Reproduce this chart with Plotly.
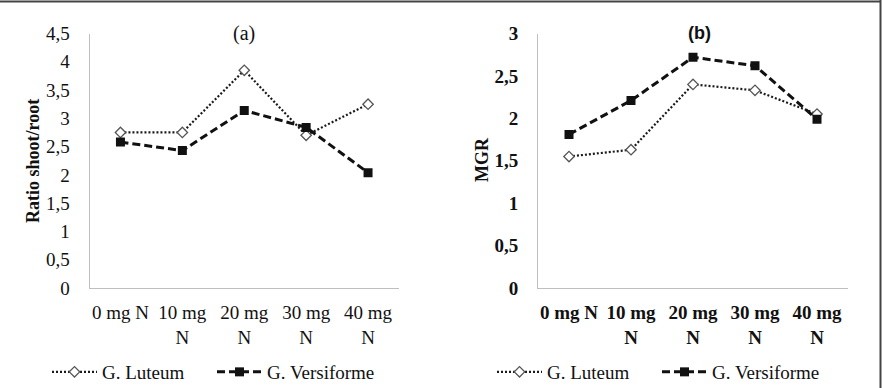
import plotly.graph_objects as go

categories = ["0 mg N", "10 mg<br>N", "20 mg<br>N", "30 mg<br>N", "40 mg<br>N"]

ratio_luteum = [2.75, 2.75, 3.85, 2.70, 3.25]
ratio_versiforme = [2.58, 2.43, 3.14, 2.84, 2.04]

mgr_luteum = [1.55, 1.63, 2.40, 2.33, 2.05]
mgr_versiforme = [1.81, 2.21, 2.72, 2.62, 1.99]

ratio_ticks = [0, 0.5, 1, 1.5, 2, 2.5, 3, 3.5, 4, 4.5]
ratio_ticktext = ["0", "0,5", "1", "1,5", "2", "2,5", "3", "3,5", "4", "4,5"]
mgr_ticks = [0, 0.5, 1, 1.5, 2, 2.5, 3]
mgr_ticktext = ["0", "0,5", "1", "1,5", "2", "2,5", "3"]

series_names = ["G. Luteum", "G. Versiforme"]

W, H = 885, 388
SERIF = "Liberation Serif"

lut_style = dict(mode="lines+markers",
                 line=dict(color="#1a1a1a", width=2.2, dash="2px,2px"),
                 marker=dict(symbol="diamond", size=8, color="white",
                             line=dict(color="#555555", width=1.3)))
ver_style = dict(mode="lines+markers",
                 line=dict(color="#111111", width=3, dash="8px,4px"),
                 marker=dict(symbol="square", size=9, color="#111111",
                             line=dict(color="#111111", width=0)))

fig = go.Figure()
fig.add_trace(go.Scatter(x=categories, y=ratio_luteum, name=series_names[0],
                         xaxis="x", yaxis="y", legend="legend", **lut_style))
fig.add_trace(go.Scatter(x=categories, y=ratio_versiforme, name=series_names[1],
                         xaxis="x", yaxis="y", legend="legend", **ver_style))
fig.add_trace(go.Scatter(x=categories, y=mgr_luteum, name=series_names[0],
                         xaxis="x2", yaxis="y2", legend="legend2", **lut_style))
fig.add_trace(go.Scatter(x=categories, y=mgr_versiforme, name=series_names[1],
                         xaxis="x2", yaxis="y2", legend="legend2", **ver_style))

ydom = [1 - 288 / H, 1 - 33.5 / H]

axis_common = dict(showgrid=False, zeroline=False, showline=True,
                   linecolor="#bfbfbf", linewidth=1, ticks="", automargin=False)

fig.update_layout(
    width=W, height=H,
    margin=dict(l=0, r=0, t=0, b=0, autoexpand=False),
    paper_bgcolor="white", plot_bgcolor="white",
    font=dict(family=SERIF, size=19, color="#111111"),
    xaxis=dict(domain=[89.5 / W, 399 / W], anchor="y", type="category",
               range=[-0.5, 4.5], tickfont=dict(family=SERIF, size=19),
               ticklabelstandoff=7, **axis_common),
    yaxis=dict(domain=ydom, anchor="x", range=[0, 4.5],
               tickvals=ratio_ticks, ticktext=ratio_ticktext,
               tickfont=dict(family=SERIF, size=19), ticklabelstandoff=15,
               **axis_common),
    xaxis2=dict(domain=[538 / W, 848 / W], anchor="y2", type="category",
                range=[-0.5, 4.5], tickfont=dict(family=SERIF, size=19, weight="bold"),
                ticklabelstandoff=7, **axis_common),
    yaxis2=dict(domain=ydom, anchor="x2", range=[0, 3],
                tickvals=mgr_ticks, ticktext=mgr_ticktext,
                tickfont=dict(family=SERIF, size=19, weight="bold"),
                ticklabelstandoff=15, **axis_common),
    legend=dict(orientation="h", x=47 / W, xanchor="left", y=1 - 372 / H,
                yanchor="middle", itemwidth=45, entrywidth=105,
                font=dict(family=SERIF, size=19), bgcolor="rgba(0,0,0,0)"),
    legend2=dict(orientation="h", x=492 / W, xanchor="left", y=1 - 372 / H,
                 yanchor="middle", itemwidth=45, entrywidth=105,
                 font=dict(family=SERIF, size=19), bgcolor="rgba(0,0,0,0)"),
    showlegend=True,
)

ann_common = dict(xref="paper", yref="paper", showarrow=False,
                  xanchor="center", yanchor="middle")
fig.add_annotation(text="(a)", x=244 / W, y=1 - 33 / H,
                   font=dict(family=SERIF, size=20), **ann_common)
fig.add_annotation(text="<b>(b)</b>", x=699 / W, y=1 - 33 / H,
                   font=dict(family="Liberation Sans", size=18), **ann_common)
fig.add_annotation(text="<b>Ratio shoot/root</b>", x=33 / W, y=1 - 161 / H,
                   textangle=-90, font=dict(family=SERIF, size=18), **ann_common)
fig.add_annotation(text="<b>MGR</b>", x=482 / W, y=1 - 160 / H,
                   textangle=-90, font=dict(family=SERIF, size=18), **ann_common)

# frame borders (top and right)
fig.add_shape(type="line", xref="paper", yref="paper", x0=0, x1=881 / W,
              y0=1 - 1.5 / H, y1=1 - 1.5 / H, line=dict(color="#444444", width=2))
fig.add_shape(type="line", xref="paper", yref="paper", x0=880.5 / W, x1=880.5 / W,
              y0=0, y1=1, line=dict(color="#444444", width=2))

fig.write_html("out.html")
